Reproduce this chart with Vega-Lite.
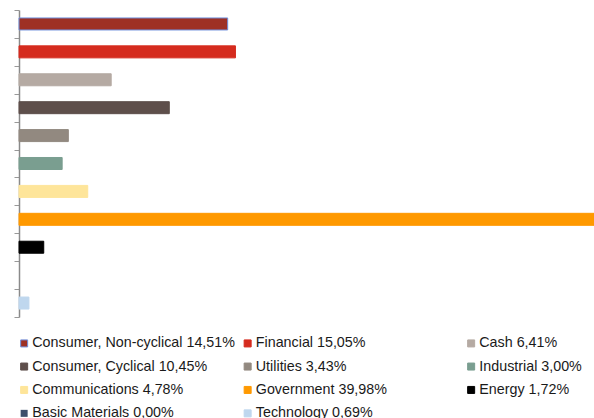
{
  "$schema": "https://vega.github.io/schema/vega-lite/v6.json",
  "autosize": {"type": "none"},
  "width": 575,
  "height": 307,
  "padding": {"left": 19, "top": 10, "right": 0, "bottom": 101},
  "background": "white",
  "data": {
    "values": [
      {"label": "Consumer, Non-cyclical 14,51%", "value": 14.51},
      {"label": "Financial 15,05%", "value": 15.05},
      {"label": "Cash 6,41%", "value": 6.41},
      {"label": "Consumer, Cyclical 10,45%", "value": 10.45},
      {"label": "Utilities 3,43%", "value": 3.43},
      {"label": "Industrial 3,00%", "value": 3.00},
      {"label": "Communications 4,78%", "value": 4.78},
      {"label": "Government 39,98%", "value": 39.98},
      {"label": "Energy 1,72%", "value": 1.72},
      {"label": "Basic Materials 0,00%", "value": 0.00},
      {"label": "Technology 0,69%", "value": 0.69}
    ]
  },
  "mark": {"type": "bar", "height": {"band": 0.43}, "strokeWidth": 1, "clip": false},
  "encoding": {
    "y": {
      "field": "label",
      "type": "nominal",
      "sort": null,
      "scale": {"paddingInner": 0, "paddingOuter": 0},
      "axis": {
        "title": null,
        "labels": false,
        "tickBand": "extent",
        "tickSize": 5,
        "tickColor": "#999999",
        "domainColor": "#8a8a8a",
        "domainWidth": 1.5,
        "grid": false
      }
    },
    "x": {
      "field": "value",
      "type": "quantitative",
      "scale": {"domain": [0, 39.98], "nice": false, "zero": true},
      "axis": null
    },
    "color": {
      "field": "label",
      "type": "nominal",
      "sort": null,
      "scale": {
        "range": ["#9e3024", "#d52b1e", "#b5aaa3", "#5e4f4b", "#928980", "#7a9e90", "#fee59a", "#ff9900", "#000000", "#3d4f6b", "#bfd7ee"]
      },
      "legend": {
        "title": null,
        "orient": "none",
        "legendX": -2,
        "legendY": 326,
        "direction": "horizontal",
        "columns": 3,
        "gridAlign": "all",
        "columnPadding": 5.5,
        "rowPadding": 8.4,
        "padding": 0,
        "symbolType": "square",
        "symbolSize": 49,
        "symbolStrokeWidth": 1,
        "labelFont": "Liberation Sans",
        "labelFontSize": 14.3,
        "labelColor": "#1a1a1a",
        "labelOffset": 1,
        "labelLimit": 300
      }
    },
    "stroke": {
      "field": "label",
      "type": "nominal",
      "sort": null,
      "scale": {
        "range": ["#6f8fdc", "#d52b1e", "#b5aaa3", "#5e4f4b", "#928980", "#7a9e90", "#fee59a", "#ff9900", "#000000", "transparent", "#bfd7ee"]
      },
      "legend": null
    }
  },
  "config": {"view": {"stroke": null}}
}
